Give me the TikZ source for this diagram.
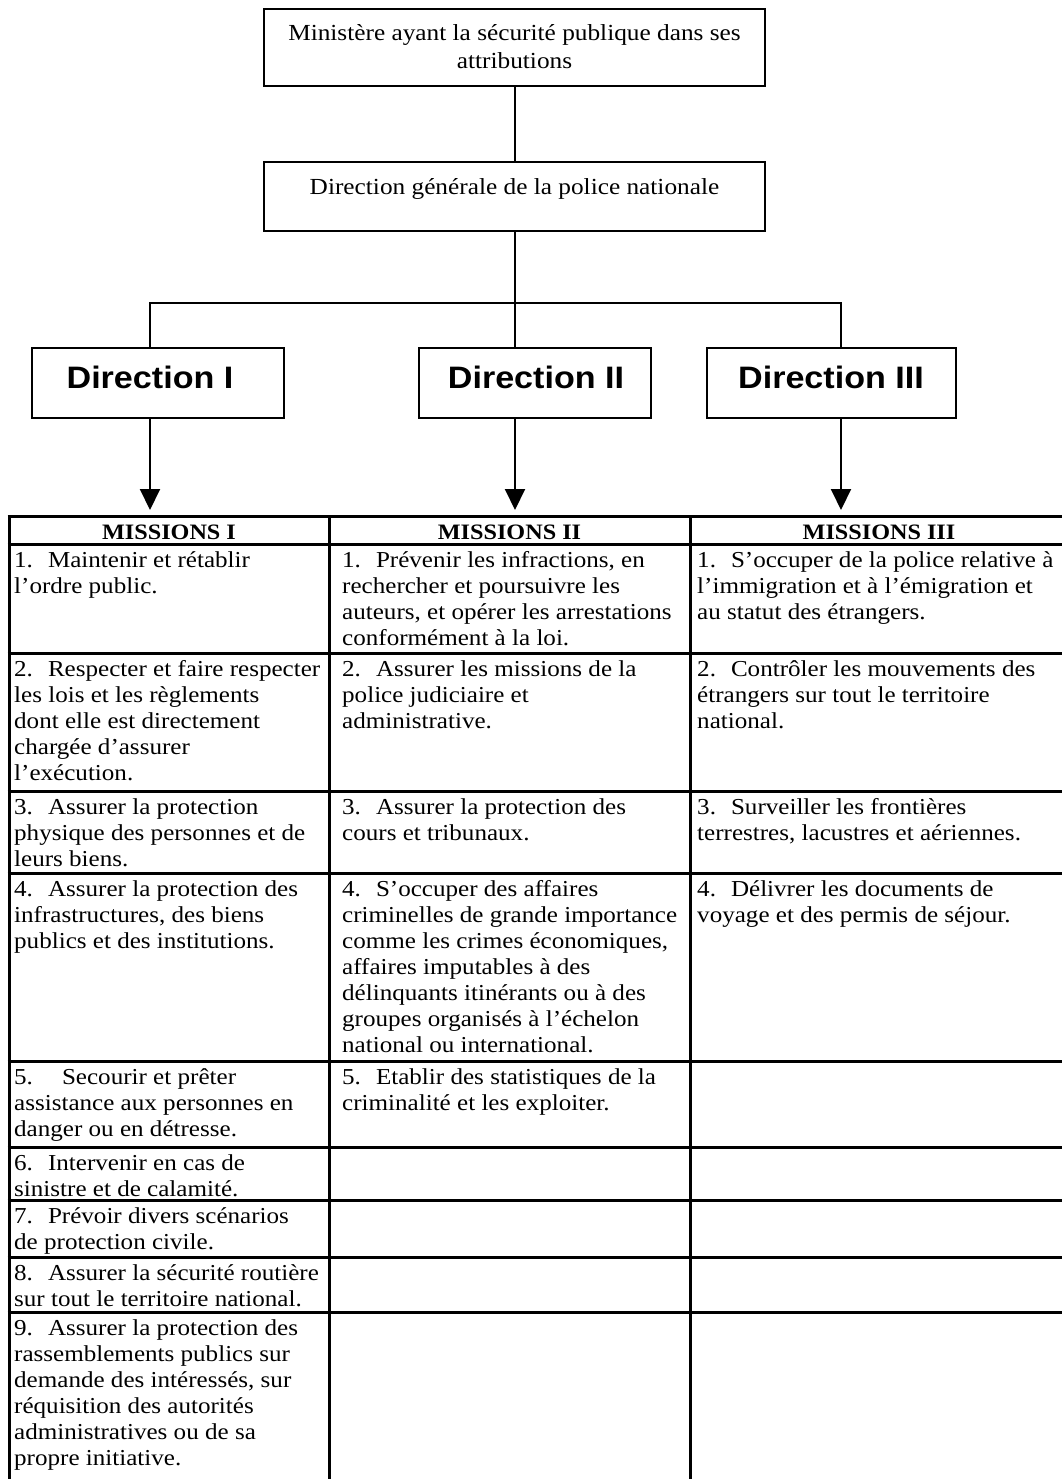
\documentclass[tikz,border=0pt]{standalone}
\usepackage{fontspec}
\setmainfont[FakeStretch=1.1]{Liberation Serif}
\newfontfamily\dirfont[FakeStretch=1.1]{Liberation Sans}
\usetikzlibrary{arrows.meta}
\newcommand\firstl{\rule{0pt}{23pt}}
\newcommand\itm[1]{\firstl#1.\hspace{15pt}}
\begin{document}
\begin{tikzpicture}[x=1pt,y=-1pt,
  orgbox/.style={draw, line width=2pt, inner sep=0pt},
  orgline/.style={line width=2pt},
  arr/.style={line width=2pt, -{Triangle[length=21pt,width=20pt]}},
  tabline/.style={line width=3pt},
  celltext/.style={anchor=north west, inner sep=0pt, align=left, font=\fontsize{22.8}{26}\selectfont},
  headtext/.style={anchor=base, inner sep=0pt, font=\fontsize{22}{26}\selectfont\bfseries},
  toptext/.style={anchor=north, inner sep=0pt, align=center, font=\fontsize{23}{28.5}\selectfont},
  dirtext/.style={anchor=base, inner sep=0pt, font=\dirfont\fontsize{31}{36}\selectfont\bfseries},
]
\useasboundingbox (0,0) rectangle (1061,1479);

% top boxes
\node[orgbox, minimum width=501pt, minimum height=77pt] (min) at (514.5,47.5) {};
\node[toptext] (mintxt) at (514.5,17) {\firstl Ministère ayant la sécurité publique dans ses\\attributions};
\node[orgbox, minimum width=501pt, minimum height=69pt] (dg) at (514.5,196.5) {};
\node[toptext] (dgtxt) at (514.5,171) {\firstl Direction générale de la police nationale};

% direction boxes
\node[orgbox, minimum width=252pt, minimum height=70pt] (d1) at (158,383) {};
\node[orgbox, minimum width=232pt, minimum height=70pt] (d2) at (535,383) {};
\node[orgbox, minimum width=249pt, minimum height=70pt] (d3) at (831.5,383) {};
\node[dirtext] (d1t) at (150,388) {Direction I};
\node[dirtext] (d2t) at (536,388) {Direction II};
\node[dirtext] (d3t) at (831,388) {Direction III};

% connectors
\coordinate (jL) at (150,303);
\coordinate (jM) at (515,303);
\coordinate (jR) at (841,303);
\draw[orgline] (min.south -| jM) -- (dg.north -| jM);
\draw[orgline] (dg.south -| jM) -- (d2.north -| jM);
\draw[orgline] (d1.north -| jL) -- (jL) -- (jR) -- (d3.north -| jR);

\coordinate (t1) at (150,510);
\coordinate (t2) at (515,510);
\coordinate (t3) at (841,510);
\draw[arr] (d1.south -| t1) -- (t1);
\draw[arr] (d2.south -| t2) -- (t2);
\draw[arr] (d3.south -| t3) -- (t3);

% table grid
\foreach \yy in {516,544,653,791,873,1061,1147,1200,1257,1312}
  \draw[tabline] (7.5,\yy) -- (1069.5,\yy);
\foreach \xx in {9,329,690,1068}
  \draw[tabline] (\xx,516) -- (\xx,1495);

% headers
\node[headtext] (h1) at (169,539) {MISSIONS I};
\node[headtext] (h2) at (509.5,539) {MISSIONS II};
\node[headtext] (h3) at (879,539) {MISSIONS III};

% column 1
\node[celltext] (a1) at (14,544) {\itm{1}Maintenir et rétablir\\l’ordre public.};
\node[celltext] (a2) at (14,653) {\itm{2}Respecter et faire respecter\\les lois et les règlements\\dont elle est directement\\chargée d’assurer\\l’exécution.};
\node[celltext] (a3) at (14,791) {\itm{3}Assurer la protection\\physique des personnes et de\\leurs biens.};
\node[celltext] (a4) at (14,873) {\itm{4}Assurer la protection des\\infrastructures, des biens\\publics et des institutions.};
\node[celltext] (a5) at (14,1061) {\firstl 5.\hspace{29pt}Secourir et prêter\\assistance aux personnes en\\danger ou en détresse.};
\node[celltext] (a6) at (14,1147) {\itm{6}Intervenir en cas de\\sinistre et de calamité.};
\node[celltext] (a7) at (14,1200) {\itm{7}Prévoir divers scénarios\\de protection civile.};
\node[celltext] (a8) at (14,1257) {\itm{8}Assurer la sécurité routière\\sur tout le territoire national.};
\node[celltext] (a9) at (14,1312) {\itm{9}Assurer la protection des\\rassemblements publics sur\\demande des intéressés, sur\\réquisition des autorités\\administratives ou de sa\\propre initiative.};

% column 2
\node[celltext] (b1) at (342,544) {\itm{1}Prévenir les infractions, en\\rechercher et poursuivre les\\auteurs, et opérer les arrestations\\conformément à la loi.};
\node[celltext] (b2) at (342,653) {\itm{2}Assurer les missions de la\\police judiciaire et\\administrative.};
\node[celltext] (b3) at (342,791) {\itm{3}Assurer la protection des\\cours et tribunaux.};
\node[celltext] (b4) at (342,873) {\itm{4}S’occuper des affaires\\criminelles de grande importance\\comme les crimes économiques,\\affaires imputables à des\\délinquants itinérants ou à des\\groupes organisés à l’échelon\\national ou international.};
\node[celltext] (b5) at (342,1061) {\itm{5}Etablir des statistiques de la\\criminalité et les exploiter.};

% column 3
\node[celltext] (c1) at (697,544) {\itm{1}S’occuper de la police relative à\\l’immigration et à l’émigration et\\au statut des étrangers.};
\node[celltext] (c2) at (697,653) {\itm{2}Contrôler les mouvements des\\étrangers sur tout le territoire\\national.};
\node[celltext] (c3) at (697,791) {\itm{3}Surveiller les frontières\\terrestres, lacustres et aériennes.};
\node[celltext] (c4) at (697,873) {\itm{4}Délivrer les documents de\\voyage et des permis de séjour.};
\end{tikzpicture}
\end{document}
